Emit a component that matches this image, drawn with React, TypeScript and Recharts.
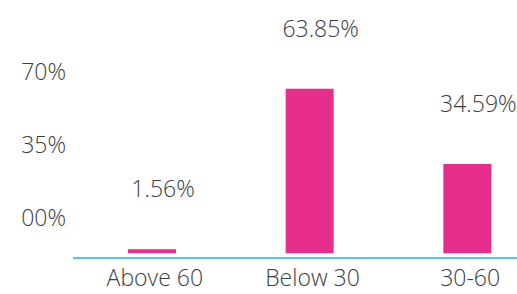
import React from 'react';
import { BarChart, Bar, XAxis, YAxis, LabelList } from 'recharts';

// age groups and their share (%)
const GROUPS = ['Above 60', 'Below 30', '30-60'];
const SHARES = [1.56, 63.85, 34.59];
// the left axis labels are decorative in the original ("00%", "35%", "70%")
const SIDE_TICKS = [0, 35, 70];

const data = GROUPS.map((g, i) => ({ group: g, share: SHARES[i] }));

const FONT = '"Open Sans", sans-serif';
const TEXT = '#3d3d3d';

const App: React.FC = () => {
  return (
    <div style={{ width: 517, height: 294, overflow: 'hidden', background: '#fff' }}>
      <style>{`body{margin:0}`}</style>
      <BarChart
        width={560}
        height={294}
        data={data}
        margin={{ top: 40, right: 14, bottom: 0, left: 0 }}
      >
        <XAxis
          dataKey="group"
          height={36}
          axisLine={{ stroke: '#5ec4e8', strokeWidth: 2 }}
          tickLine={false}
          tickMargin={6}
          tick={{ fill: TEXT, fontSize: 23, fontFamily: FONT, fontWeight: 300, dx: 3 }}
        />
        <YAxis
          yAxisId="side"
          width={73}
          domain={[-19.2, 85.3]}
          ticks={SIDE_TICKS}
          allowDataOverflow
          axisLine={false}
          tickLine={false}
          tickMargin={1}
          tickFormatter={(v: number) => (v === 0 ? '00%' : `${v}%`)}
          tick={{ fill: TEXT, fontSize: 23, fontFamily: FONT, fontWeight: 300 }}
        />
        <YAxis yAxisId="bars" hide width={0} domain={[-1.8, 82.7]} allowDataOverflow />
        <Bar yAxisId="bars" dataKey="share" fill="#e62e8c" barSize={48} isAnimationActive={false}>
          <LabelList
            dataKey="share"
            position="top"
            offset={52}
            dx={11}
            formatter={(v: number) => `${v.toFixed(2)}%`}
            style={{ fill: TEXT, fontSize: 23, fontFamily: FONT, fontWeight: 300 }}
          />
        </Bar>
      </BarChart>
    </div>
  );
};

export default App;
